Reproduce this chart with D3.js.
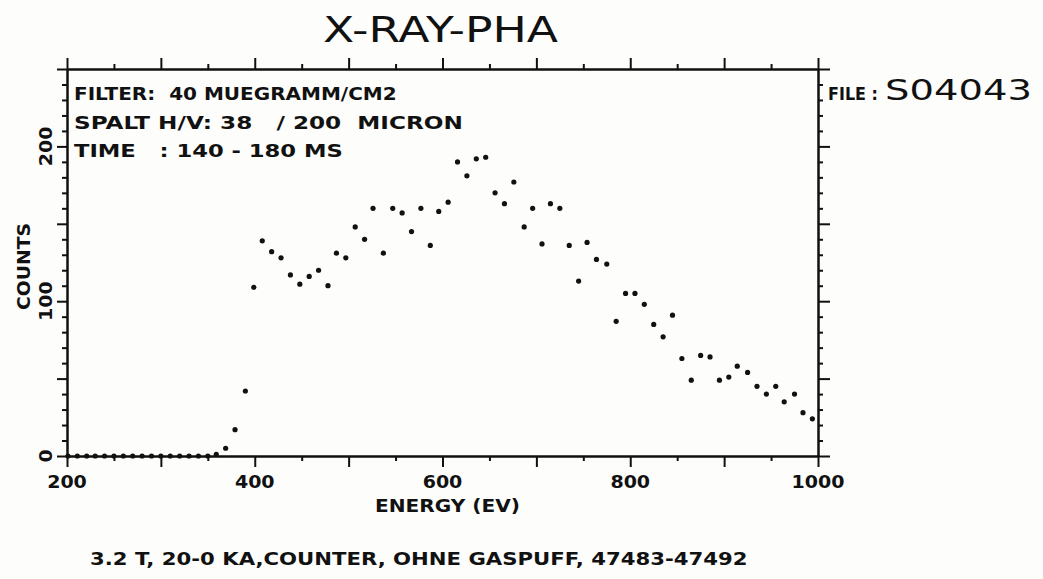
<!DOCTYPE html>
<html>
<head>
<meta charset="utf-8">
<script src="https://cdn.jsdelivr.net/npm/d3@7"></script>
<style>
  body { margin: 0; background: #fdfdfc; }
  svg { display: block; }
  .ink { font-family: "DejaVu Sans", sans-serif; fill: #111; white-space: pre; }
  .axis path, .axis line { stroke: #111; stroke-width: 2; }
</style>
</head>
<body>
<svg id="chart" width="1043" height="579"></svg>
<script>
// Energy channels (eV)
var energies = [
    201, 211, 221, 230, 240, 250, 260, 270, 280, 290, 300, 310, 320, 330, 340, 350, 359,
    369, 379, 390, 399, 408, 418, 428, 438, 448, 458,
    468, 478, 487, 497, 507, 517, 526, 537, 547, 557,
    567, 577, 587, 596, 606, 616, 626, 636, 646, 656,
    666, 676, 687, 696, 706, 715, 725, 735, 745, 754,
    764, 775, 785, 795, 805, 815, 825, 835, 845, 855,
    865, 875, 885, 895, 905, 914, 925, 935, 945, 955,
    964, 975, 984, 994
];

// Counts per channel
var counts = [
    0, 0, 0, 0, 0, 0, 0, 0, 0, 0, 0, 0, 0, 0, 0, 0, 1,
    5, 17, 42, 109, 139, 132, 128, 117, 111, 116,
    120, 110, 131, 128, 148, 140, 160, 131, 160, 157,
    145, 160, 136, 158, 164, 190, 181, 192, 193, 170,
    163, 177, 148, 160, 137, 163, 160, 136, 113, 138,
    127, 124, 87, 105, 105, 98, 85, 77, 91, 63,
    49, 65, 64, 49, 51, 58, 54, 45, 40, 45,
    35, 40, 28, 24
];

// Tick values
var xMajor = [200, 300, 400, 500, 600, 700, 800, 900, 1000];
var xMinor = [250, 350, 450, 550, 650, 750, 850, 950];
var xLabels = [200, 400, 600, 800, 1000];
var yMajor = [0, 50, 100, 150, 200, 250];
var yMinor = [10, 20, 30, 40, 60, 70, 80, 90, 110, 120, 130, 140, 160, 170, 180, 190, 210, 220, 230, 240];
var yLabels = [0, 100, 200];

// Annotation text
var infoLines = [
    "FILTER:  40 MUEGRAMM/CM2",
    "SPALT H/V: 38   / 200  MICRON",
    "TIME   : 140 - 180 MS"
];
var infoWidths = [323, 389, 269];

var svg = d3.select("#chart");

// plot frame
var frame = {left: 67, right: 818, top: 69, bottom: 456};

var x = d3.scaleLinear().domain([200, 1000]).range([frame.left, frame.right]);
var y = d3.scaleLinear().domain([0, 250]).range([frame.bottom, frame.top]);

// Helper to draw an axis with no labels
function drawTicks(axisFn, scale, values, size, transform) {
    var g = svg.append("g")
        .attr("class", "axis")
        .attr("transform", transform)
        .call(axisFn(scale).tickValues(values).tickSize(size).tickSizeOuter(0).tickFormat(""));
    g.selectAll("text").remove();
}

// Stretch a text horizontally so it spans the given width (plotter letters are wide)
function wideText(str, px, py, width, size, weight) {
    var t = svg.append("text")
        .attr("class", "ink")
        .style("font-size", size + "px")
        .style("font-weight", weight)
        .text(str);
    var w = t.node().getComputedTextLength();
    t.attr("transform", `translate(${px},${py}) scale(${width / w},1)`);
    return t;
}

// Bottom and top axes
drawTicks(d3.axisBottom, x, xMajor, 11, `translate(0,${frame.bottom})`);
drawTicks(d3.axisBottom, x, xMinor, 5, `translate(0,${frame.bottom})`);
drawTicks(d3.axisTop, x, xMajor, 11, `translate(0,${frame.top})`);
drawTicks(d3.axisTop, x, xMinor, 5, `translate(0,${frame.top})`);

// Left and right axes
drawTicks(d3.axisLeft, y, yMajor, 10, `translate(${frame.left},0)`);
drawTicks(d3.axisLeft, y, yMinor, 5, `translate(${frame.left},0)`);
drawTicks(d3.axisRight, y, yMajor, 12, `translate(${frame.right},0)`);
drawTicks(d3.axisRight, y, yMinor, 5, `translate(${frame.right},0)`);

// X tick labels
svg.selectAll(".xlab")
    .data(xLabels)
    .join("text")
    .attr("class", "ink xlab")
    .attr("transform", d => `translate(${x(d)},488) scale(1.12,1)`)
    .attr("text-anchor", "middle")
    .style("font-size", "17px")
    .style("font-weight", "bold")
    .text(d => d);

// Y tick labels, rotated
svg.selectAll(".ylab")
    .data(yLabels)
    .join("text")
    .attr("class", "ink ylab")
    .attr("transform", d => `translate(52,${y(d)}) rotate(-90) scale(1.12,1)`)
    .attr("text-anchor", "middle")
    .style("font-size", "17px")
    .style("font-weight", "bold")
    .text(d => d);

// Axis titles
wideText("ENERGY (EV)", 375, 512, 145, 18, "bold");

svg.append("text")
    .attr("class", "ink")
    .attr("transform", "translate(30,310) rotate(-90)")
    .attr("textLength", 87)
    .attr("lengthAdjust", "spacingAndGlyphs")
    .style("font-size", "18px")
    .style("font-weight", "bold")
    .text("COUNTS");

// Title
wideText("X-RAY-PHA", 323, 42, 235, 36, "normal");

// Info block inside plot
infoLines.forEach(function(line, i) {
    wideText(line, 74, 100 + i * 28.5, infoWidths[i], 18, "bold");
});

// File label
wideText("FILE :", 828, 100, 50, 17, "bold");
wideText("S04043", 885, 100, 147, 28, "normal");

// Footer caption
wideText("3.2 T, 20-0 KA,COUNTER, OHNE GASPUFF, 47483-47492", 90, 565, 658, 18, "bold");

// Data points
var points = energies.map((e, i) => ({ e: e, c: counts[i] }));

svg.selectAll(".pt")
    .data(points)
    .join("circle")
    .attr("class", "pt")
    .attr("cx", d => x(d.e))
    .attr("cy", d => y(d.c))
    .attr("r", 2.6)
    .attr("fill", "#111");
</script>
</body>
</html>
